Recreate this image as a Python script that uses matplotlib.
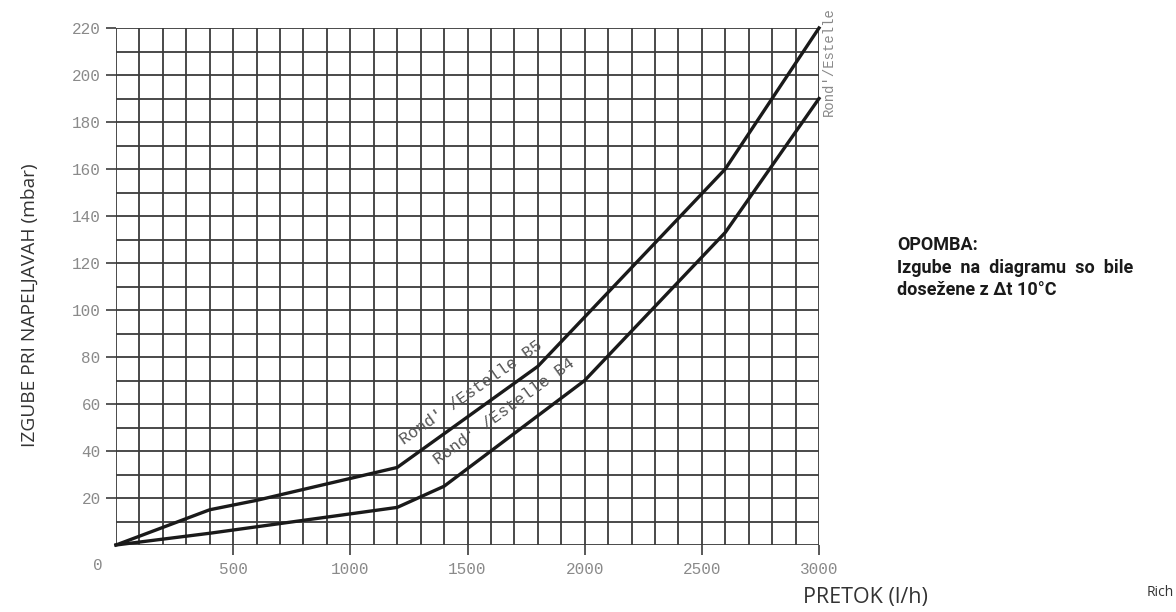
import matplotlib.pyplot as plt
from matplotlib.ticker import MultipleLocator

# pretok (l/h) in izgube (mbar) odčitane z diagrama
b5_x = [0, 400, 600, 1200, 1800, 2600, 3000]
b5_y = [0, 15, 19, 33, 76, 160, 220]
b4_x = [0, 400, 1200, 1400, 2000, 2600, 3000]
b4_y = [0, 5, 16, 25, 70, 133, 190]

x_ticks = [500, 1000, 1500, 2000, 2500, 3000]
y_ticks = [20, 40, 60, 80, 100, 120, 140, 160, 180, 200, 220]

mono = 'Liberation Mono'
tick_col = '#8a8a8a'

fig = plt.figure(figsize=(11.76, 6.12), dpi=100)
ax = fig.add_axes([116/1176, 67/612, 703/1176, 517/612])

ax.set_xlim(0, 3000)
ax.set_ylim(0, 220)

# mreža
ax.xaxis.set_minor_locator(MultipleLocator(100))
ax.yaxis.set_minor_locator(MultipleLocator(10))
ax.set_xticks(x_ticks)
ax.set_yticks(y_ticks)
ax.grid(which='both', color='#3c3c3c', lw=1.3)
ax.set_axisbelow(True)
for s in ax.spines.values():
    s.set_visible(False)
ax.tick_params(which='minor', length=0)
ax.tick_params(which='major', length=7, width=1.2, color='#3c3c3c',
               labelcolor=tick_col, labelsize=11.5, pad=4)
for lab in ax.get_xticklabels() + ax.get_yticklabels():
    lab.set_family(mono)
ax.tick_params(axis='x', pad=5)

# krivulje
ax.plot(b5_x, b5_y, color='#1a1a1a', lw=2.4, solid_joinstyle='miter', clip_on=False)
ax.plot(b4_x, b4_y, color='#1a1a1a', lw=2.4, solid_joinstyle='miter', clip_on=False)

ax.text(1515, 65, "Rond' /Estelle B5", family=mono, fontsize=12, color='#555555',
        rotation=35, ha='center', va='center')
ax.text(1655, 57, "Rond' /Estelle B4", family=mono, fontsize=12, color='#555555',
        rotation=36, ha='center', va='center')

fig.text(829/1176, 1 - 62/612, "Rond'/Estelle", family=mono, fontsize=10,
         color='#888888', rotation=90, ha='center', va='center')
fig.text(98/1176, 1 - 565/612, '0', family=mono, fontsize=11.5, color=tick_col,
         ha='center', va='center')

fig.text(30/1176, 1 - 305/612, 'IZGUBE PRI NAPELJAVAH (mbar)', family='Open Sans',
         fontsize=13.8, color='#333333', rotation=90, ha='center', va='center')
fig.text(865/1176, 1 - 597/612, 'PRETOK (l/h)', family='Open Sans',
         fontsize=15.5, color='#333333', ha='center', va='center')

fig.text(897/1176, 1 - 245/612, 'OPOMBA:', family='Roboto', weight='bold',
         fontsize=13, color='#1a1a1a', ha='left', va='center')
fig.text(897/1176, 1 - 268/612, 'Izgube  na  diagramu  so  bile', family='Roboto',
         weight='bold', fontsize=13, color='#1a1a1a', ha='left', va='center')
fig.text(897/1176, 1 - 290/612, 'dosežene z Δt 10°C', family='Roboto', weight='bold',
         fontsize=13, color='#1a1a1a', ha='left', va='center')

fig.text(1147/1176, 1 - 600/612, 'Rich', family='Open Sans', fontsize=10,
         color='#333333', ha='left', va='bottom')

fig.savefig('out.png', dpi=100)
